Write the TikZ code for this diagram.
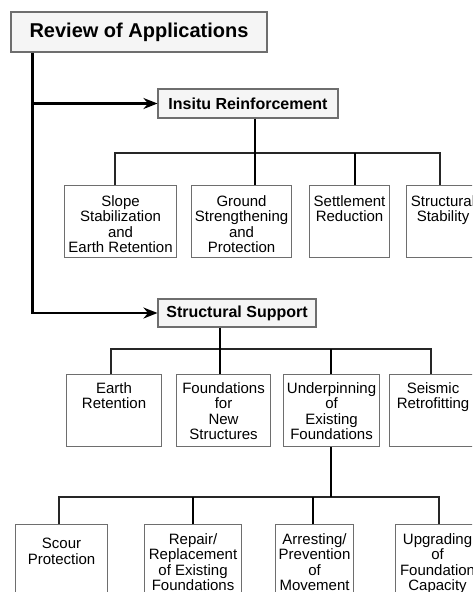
\documentclass[tikz,border=0pt]{standalone}
\usepackage{fontspec}
\setmainfont{Liberation Sans}
\usetikzlibrary{arrows.meta}
\definecolor{boxgray}{RGB}{110,110,110}
\tikzset{
  head/.style={draw=boxgray,line width=1.1pt,fill=gray!8,inner sep=0pt,font=\bfseries},
  box/.style={draw=boxgray,line width=1.1pt,fill=white,anchor=north west,inner sep=0pt,minimum height=72pt},
  boxtext/.style={anchor=north,align=center,inner sep=0pt,font=\fontsize{15}{15.5}\selectfont},
  trunk/.style={line width=2.3pt,black},
  branch/.style={line width=1.8pt,black!85},
  tip/.style={-{Stealth[length=14pt,width=11pt]}}
}
\begin{document}
\begin{tikzpicture}[x=1pt,y=-1pt]
  \clip (0,0) rectangle (472,592);
  \useasboundingbox (0,0) rectangle (472,592);
  % headings
  \node[head,minimum width=256pt,minimum height=40pt,font=\fontsize{20}{22}\bfseries\selectfont] (review) at (139,32) {Review of Applications};
  \node[head,minimum width=180pt,minimum height=29pt,font=\fontsize{16}{18}\bfseries\selectfont] (ir) at (248,103.5) {Insitu Reinforcement};
  \node[head,minimum width=158pt,minimum height=28pt,font=\fontsize{16}{18}\bfseries\selectfont] (ss) at (237,313) {Structural Support};
  \draw[trunk,tip] ([xshift=22pt]review.south west) |- (ss.west);
  \draw[trunk,tip] ([xshift=22pt]review.south west |- ir.west) -- (ir.west);
  % insitu reinforcement
  \node[box,minimum width=112pt,label={[boxtext,yshift=-10pt]north:Slope\\Stabilization\\and\\Earth Retention}] (sse) at (64,185) {};
  \node[box,minimum width=100pt,label={[boxtext,yshift=-10pt]north:Ground\\Strengthening\\and\\Protection}] (gsp) at (191,185) {};
  \node[box,minimum width=80pt,label={[boxtext,yshift=-10pt]north:Settlement\\Reduction}] (sred) at (309,185) {};
  \node[box,minimum width=73pt,label={[boxtext,yshift=-10pt]north:Structural\\Stability}] (sstab) at (406,185) {};
  \coordinate (i1) at (115,153);
  \coordinate (i2) at (255,153);
  \coordinate (i3) at (355,153);
  \coordinate (i4) at (440,153);
  \draw[branch] (i1 |- sse.north) -- (i1) -- (i4) -- (i4 |- sstab.north);
  \draw[trunk] (i2 |- ir.south) -- (i2) -- (i2 |- gsp.north);
  \draw[trunk] (i3) -- (i3 |- sred.north);
  % structural support
  \node[box,minimum width=95pt,label={[boxtext,yshift=-8pt]north:Earth\\Retention}] (er) at (66,374) {};
  \node[box,minimum width=94pt,label={[boxtext,yshift=-8pt]north:Foundations\\for\\New\\Structures}] (fns) at (176,374) {};
  \node[box,minimum width=96pt,label={[boxtext,yshift=-8pt]north:Underpinning\\of\\Existing\\Foundations}] (uef) at (283,374) {};
  \node[box,minimum width=87pt,label={[boxtext,yshift=-8pt]north:Seismic\\Retrofitting}] (sret) at (389,374) {};
  \coordinate (s1) at (111,349);
  \coordinate (s2) at (220,349);
  \coordinate (s3) at (331,349);
  \coordinate (s4) at (431,349);
  \draw[branch] (s1 |- er.north) -- (s1) -- (s4) -- (s4 |- sret.north);
  \draw[trunk] (s2 |- ss.south) -- (s2) -- (s2 |- fns.north);
  \draw[trunk] (s3) -- (s3 |- uef.north);
  % underpinning
  \node[box,minimum width=92pt,label={[boxtext,yshift=-14pt]north:Scour\\Protection}] (sp) at (15,524) {};
  \node[box,minimum width=97pt,label={[boxtext,yshift=-9pt]north:Repair/\\Replacement\\of Existing\\Foundations}] (rref) at (144,524) {};
  \node[box,minimum width=78pt,label={[boxtext,yshift=-9pt]north:Arresting/\\Prevention\\of\\Movement}] (apm) at (275,524) {};
  \node[box,minimum width=84pt,label={[boxtext,yshift=-9pt]north:Upgrading\\of\\Foundation\\Capacity}] (ufc) at (395,524) {};
  \coordinate (u1) at (59,497);
  \coordinate (u2) at (193,497);
  \coordinate (u3) at (313,497);
  \coordinate (u4) at (439,497);
  \draw[branch] (u1 |- sp.north) -- (u1) -- (u4) -- (u4 |- ufc.north);
  \draw[trunk] (s3 |- uef.south) -- (s3 |- u1);
  \draw[trunk] (u2) -- (u2 |- rref.north);
  \draw[trunk] (u3) -- (u3 |- apm.north);
\end{tikzpicture}
\end{document}
